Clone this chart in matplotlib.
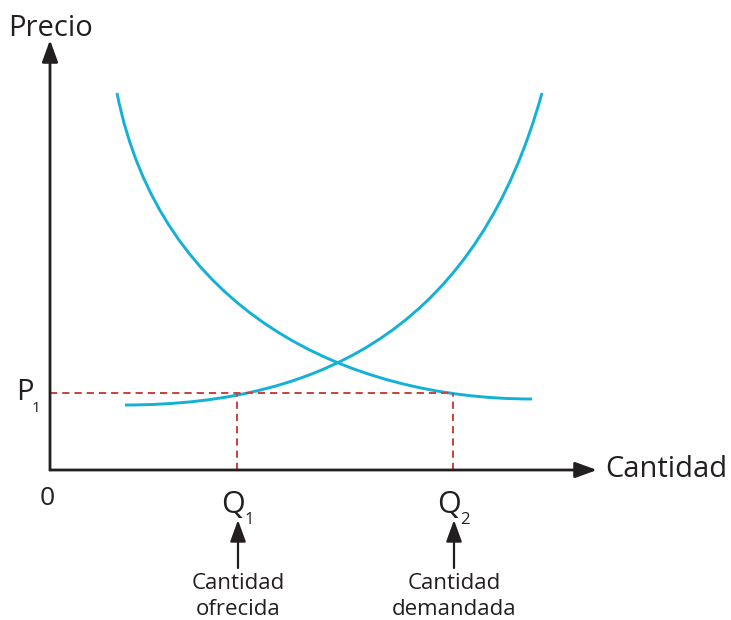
import matplotlib
matplotlib.use("Agg")
import matplotlib.pyplot as plt
from matplotlib.path import Path
from matplotlib.patches import PathPatch

plt.rcParams["font.family"] = ["Open Sans", "DejaVu Sans"]
plt.rcParams["lines.scale_dashes"] = False

# ── Data (arbitrary units) ────────────────────────────────────────────────────
# each curve is one cubic Bezier: start, control 1, control 2, end
demand_q = [6.7, 11.0, 29.5, 48.2]
demand_p = [37.7, 16.0, 7.1, 7.1]

supply_q = [7.5, 28.0, 42.9, 49.2]
supply_p = [6.5, 6.5, 15.0, 37.7]

P1 = 7.7
Q1 = 18.7
Q2 = 40.3
X_MAX = 54.7
Y_MAX = 43.0

CURVE_COLOR = "#12B1D5"
DASH_COLOR = "#C8423C"
AXIS_COLOR = "#231F20"

# ── Figure ────────────────────────────────────────────────────────────────────
fig = plt.figure(figsize=(7.31, 6.2), dpi=100)
ax = fig.add_axes([0, 0, 1, 1])
ax.set_xlim(-5, 68.1)
ax.set_ylim(-15, 47)
ax.axis("off")

# axes with arrow heads
axis_arrow = dict(arrowstyle="-|>,head_length=0.55,head_width=0.2",
                  lw=2, color=AXIS_COLOR, mutation_scale=24,
                  shrinkA=0, shrinkB=0)
ax.annotate("", xy=(0, Y_MAX), xytext=(0, 0), arrowprops=axis_arrow)
ax.annotate("", xy=(X_MAX, 0), xytext=(0, 0), arrowprops=axis_arrow)

# curves
bezier = [Path.MOVETO, Path.CURVE4, Path.CURVE4, Path.CURVE4]
for qs, ps in [(demand_q, demand_p), (supply_q, supply_p)]:
    path = Path(list(zip(qs, ps)), bezier)
    ax.add_patch(PathPatch(path, facecolor="none", edgecolor=CURVE_COLOR,
                           lw=2.1, capstyle="butt"))

# dashed guides
dash = dict(color=DASH_COLOR, lw=1.4, dashes=(5.2, 3.6))
ax.plot([0, Q2], [P1, P1], **dash)
ax.plot([Q1, Q1], [0, P1], **dash)
ax.plot([Q2, Q2], [0, P1], **dash)

# labels
txt = dict(color=AXIS_COLOR, va="baseline")
ax.text(-4.2, 43.4, "Precio", fontsize=21, ha="left", **txt)
ax.text(55.5, -0.7, "Cantidad", fontsize=21, ha="left", **txt)
ax.text(-0.3, -3.5, "0", fontsize=19, ha="center", **txt)
ax.text(-2.5, 7.0, "P", fontsize=21, ha="center", **txt)
ax.text(-1.4, 5.8, "1", fontsize=11, ha="center", **txt)

sub_labels = ["1", "2"]
label_top = ["Cantidad", "Cantidad"]
label_bottom = ["ofrecida", "demandada"]
small_arrow = dict(arrowstyle="-|>,head_length=0.55,head_width=0.2",
                   lw=1.6, color=AXIS_COLOR, mutation_scale=24,
                   shrinkA=0, shrinkB=0)
for q, sub, top, bot in zip([Q1, Q2], sub_labels, label_top, label_bottom):
    ax.text(q - 0.4, -4.3, "Q", fontsize=22, ha="center", **txt)
    ax.text(q + 1.2, -5.4, sub, fontsize=12, ha="center", **txt)
    ax.annotate("", xy=(q + 0.1, -5.0), xytext=(q + 0.1, -9.8),
                arrowprops=small_arrow)
    ax.text(q + 0.1, -11.9, top, fontsize=16, ha="center", **txt)
    ax.text(q + 0.1, -14.5, bot, fontsize=16, ha="center", **txt)

fig.savefig("out.png", dpi=100)
plt.close(fig)
